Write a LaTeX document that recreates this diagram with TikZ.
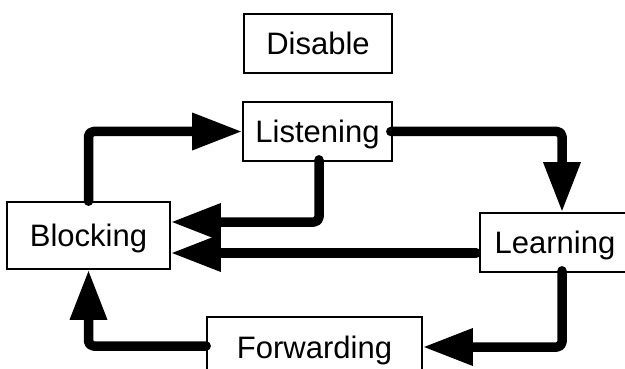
\documentclass[tikz,border=0pt]{standalone}
\usepackage{fontspec}
\setmainfont{Liberation Sans}
\usetikzlibrary{arrows.meta}
\begin{document}
\begin{tikzpicture}[x=1pt,y=-1pt,
  state/.style={draw,line width=1.6pt,inner sep=0pt,text height=22pt,text depth=0pt,
    font=\fontsize{31}{37}\selectfont},
  flow/.style={line width=9.5pt,line cap=round,line join=round,rounded corners=5pt,
    -{Triangle[length=50pt,width=35pt]}}]
\clip (0,0) rectangle (625,369);
\fill[white] (0,0) rectangle (625,369);
\node[state,minimum width=148pt,minimum height=59pt] (dis) at (318,43.5) {Disable};
\node[state,minimum width=149pt,minimum height=59pt] (lis) at (317.5,131.5) {Listening};
\node[state,minimum width=163pt,minimum height=67pt] (blk) at (88.5,235.5) {Blocking};
\node[state,minimum width=150pt,minimum height=59pt] (lrn) at (555,242.5) {Learning};
\node[state,minimum width=215pt,minimum height=60pt] (fwd) at (314.5,347) {Forwarding};
\coordinate (lrnin) at ([xshift=7pt]lrn.north);
\coordinate (lrnout) at ([xshift=7pt]lrn.south);
\coordinate (lrnl) at ([yshift=-10.5pt,xshift=-3pt]lrn.west);
\coordinate (blkin) at ([yshift=13.5pt]blk.east);
\draw[flow] (blk.north) |- (lis.west);
\draw[flow] ([xshift=1.5pt,yshift=2pt]lis.south) |- (blkin);
\draw[flow] (lrnl) -- (lrnl -| blk.east);
\draw[flow] ([xshift=-2pt]lis.east) -| (lrnin);
\draw[flow] ([yshift=2pt]lrnout) |- (fwd.east);
\draw[flow] ([yshift=1pt]fwd.west) -| (blk.south);
\end{tikzpicture}
\end{document}
